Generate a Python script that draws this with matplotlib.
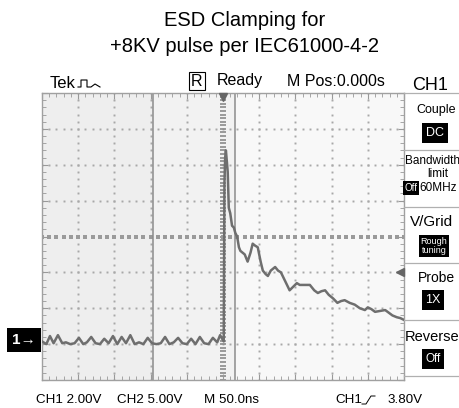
import numpy as np
import matplotlib
matplotlib.use('Agg')
import matplotlib.pyplot as plt

plt.rcParams['font.family'] = ['Liberation Sans', 'DejaVu Sans']

# CH1 trace, time in ns (0 = trigger), volts above CH1 ground
baseline_t = [-250, -244, -239, -234, -228, -222, -217, -211, -205, -199, -193,
              -188, -182, -176, -170, -164, -158, -152, -146, -140, -134, -128,
              -122, -116, -110, -104, -98, -92, -86, -80, -74, -68, -62, -56,
              -50, -44, -38, -32, -26, -20, -14, -8, -4, 1]
baseline_v = [0.15, 0.0, 0.45, 0.05, 0.5, 0.05, 0.1, 0.0, 0.05, 0.35, 0.0,
              0.1, 0.4, 0.05, 0.0, 0.3, 0.05, 0.45, 0.0, 0.4, 0.05, 0.5,
              0.0, 0.1, 0.0, 0.35, 0.05, 0.0, 0.05, 0.4, 0.0, 0.1, 0.35, 0.05,
              0.0, 0.3, 0.0, 0.4, 0.05, 0.0, 0.35, 0.1, 0.5, 0.15]
pulse_t = [2, 3, 4, 5.5, 6.5, 8, 10, 12.5, 15, 17, 19.5, 22, 24, 27, 30, 34, 38,
           41, 44, 48, 52, 55, 59, 62, 66, 72, 76, 80, 86, 92, 97, 102, 106, 112,
           120, 126, 131, 136, 141, 146, 152, 158, 163, 168, 175, 182, 189, 196,
           200, 205, 210, 217, 224, 229, 234, 240, 245, 250]
pulse_v = [9.0, 10.4, 10.8, 10.1, 9.6, 7.6, 7.3, 6.6, 6.5, 6.2, 6.0, 5.4, 5.2,
           5.1, 5.0, 4.6, 5.1, 5.6, 5.5, 5.4, 4.6, 4.1, 3.9, 3.8, 4.1, 4.3, 4.1,
           4.0, 3.5, 3.0, 3.2, 3.4, 3.3, 3.3, 3.3, 3.0, 2.85, 2.95, 3.0, 2.75,
           2.55, 2.3, 2.4, 2.45, 2.3, 2.2, 2.0, 1.9, 2.05, 1.95, 1.8, 1.85, 1.9,
           1.75, 1.6, 1.5, 1.45, 1.35]

ns_per_div = 50.0
volts_per_div = 2.0
ground_div = -3          # ground marker sits 3 div below the centre line
trigger_level = 3.80
cursor_t = [-97, 17]

panel_labels = ['Couple', 'Bandwidth', 'V/Grid', 'Probe', 'Reverse']
panel_values = ['DC', 'Off', 'Rough\ntuning', '1X', 'Off']

trace_t = np.array(baseline_t + pulse_t)
trace_v = np.array(baseline_v + pulse_v)

W, H = 459, 408
fig = plt.figure(figsize=(W / 100, H / 100), dpi=100, facecolor='white')

# scope screen, placed in pixels
x0, x1, y0, y1 = 42, 404, 93, 380
ax = fig.add_axes([x0 / W, 1 - y1 / H, (x1 - x0) / W, (y1 - y0) / H])
centre_v = -ground_div * volts_per_div
ax.set_xlim(-5 * ns_per_div, 5 * ns_per_div)
ax.set_ylim(centre_v - 4 * volts_per_div, centre_v + 4 * volts_per_div)
ax.set_facecolor('#f8f8f8')
ax.axvspan(-5 * ns_per_div, cursor_t[0], color='#eeeeee', lw=0, zorder=0)
ax.axvspan(cursor_t[0], cursor_t[1], color='#f2f2f2', lw=0, zorder=0)

xmaj = np.arange(-5, 6) * ns_per_div
ymaj = centre_v + np.arange(-4, 5) * volts_per_div
xmin = np.arange(-25, 26) * ns_per_div / 5
ymin = centre_v + np.arange(-20, 21) * volts_per_div / 5
ydense = centre_v + np.arange(-40, 41) * volts_per_div / 10

# dotted grid
for gx in xmaj[1:-1]:
    if gx == 0:
        continue
    ax.plot(np.full_like(ymin, gx), ymin, ls='none', marker='s', ms=1.4,
            color='#a8a8a8', mew=0, zorder=1)
for gy in ymaj[1:-1]:
    if gy == centre_v:
        continue
    ax.plot(xmin, np.full_like(xmin, gy), ls='none', marker='s', ms=1.4,
            color='#a8a8a8', mew=0, zorder=1)
# centre cross, drawn heavier
ax.plot(np.zeros_like(ydense), ydense, ls='none', marker='_', ms=4, mew=1.2,
        color='#8a8a8a', zorder=1)
ax.plot(xmin, np.full_like(xmin, centre_v), ls='none', marker='s', ms=2.2,
        mew=0, color='#9a9a9a', zorder=1)

for ct in cursor_t:
    ax.axvline(ct, color='#8c8c8c', lw=1.1, zorder=2)

ax.plot(trace_t, trace_v, color='#6e6e6e', lw=1.8, zorder=3,
        solid_joinstyle='round')

# trigger position and level markers
ax.plot([0], [ax.get_ylim()[1] - 0.25], marker='v', ms=6, color='#666666',
        clip_on=False, zorder=4)
ax.plot([ax.get_xlim()[1] - 5], [trigger_level + 0.2], marker='<', ms=6,
        color='#666666', clip_on=False, zorder=4)

ax.set_xticks(xmaj)
ax.set_yticks(ymaj)
ax.set_xticks(xmin, minor=True)
ax.set_yticks(ymin, minor=True)
ax.tick_params(which='both', direction='in', top=True, right=True,
               labelbottom=False, labelleft=False, color='#999999')
ax.tick_params(which='major', length=4)
ax.tick_params(which='minor', length=3)
for s in ax.spines.values():
    s.set_color('#a0a0a0')
    s.set_linewidth(1)

# overlay in pixel coordinates for the scope text
ov = fig.add_axes([0, 0, 1, 1])
ov.set_xlim(0, W)
ov.set_ylim(H, 0)
ov.axis('off')
ov.patch.set_alpha(0)

ov.text(245, 21, 'ESD Clamping for', ha='center', va='center', fontsize=14.5)
ov.text(245, 47, '+8KV pulse per IEC61000-4-2', ha='center', va='center',
        fontsize=14.5)

ov.text(50, 83, 'Tek', ha='left', va='center', fontsize=12)
ov.plot([78, 81, 81, 87, 87, 91, 95, 100], [87, 87, 80, 80, 87, 87, 84, 87],
        color='black', lw=0.8)
ov.text(197, 81, 'R', ha='center', va='center', fontsize=11.5,
        bbox=dict(boxstyle='square,pad=0.12', fc='white', ec='black', lw=0.8))
ov.text(217, 81, 'Ready', ha='left', va='center', fontsize=11.5)
ov.text(287, 81, 'M Pos:0.000s', ha='left', va='center', fontsize=11.5)
ov.text(412, 86, 'CH1', ha='left', va='center', fontsize=13)

# ground marker for channel 1
ov.text(24, 340, '1\u2192', ha='center', va='center', fontsize=11,
        fontweight='bold', color='white',
        bbox=dict(boxstyle='square,pad=0.35', fc='black', ec='none'))

# side menu
seps = [93, 150, 207, 263, 320, 376]
for sy in seps:
    ov.plot([404, W], [sy, sy], color='#b0b0b0', lw=0.9)
box = dict(boxstyle='square,pad=0.3', fc='black', ec='none')
ov.text(436, 110, panel_labels[0], ha='center', va='center', fontsize=9)
ov.text(435, 133, panel_values[0], ha='center', va='center', fontsize=9,
        color='white', bbox=box)
ov.text(405, 161, panel_labels[1], ha='left', va='center', fontsize=8.5)
ov.text(438, 174, 'limit', ha='center', va='center', fontsize=8.5)
ov.text(411, 188, panel_values[1], ha='center', va='center', fontsize=7,
        color='white', bbox=dict(boxstyle='square,pad=0.2', fc='black', ec='none'))
ov.text(419, 188, '60MHz', ha='left', va='center', fontsize=8.5)
ov.text(432, 222, panel_labels[2], ha='center', va='center', fontsize=11)
ov.text(434, 246, panel_values[2], ha='center', va='center', fontsize=6.5,
        color='white', linespacing=1.0,
        bbox=dict(boxstyle='square,pad=0.2', fc='black', ec='none'))
ov.text(436, 278, panel_labels[3], ha='center', va='center', fontsize=10)
ov.text(433, 300, panel_values[3], ha='center', va='center', fontsize=9,
        color='white', bbox=box)
ov.text(405, 337, panel_labels[4], ha='left', va='center', fontsize=10.5)
ov.text(433, 359, panel_values[4], ha='center', va='center', fontsize=8.5,
        color='white', bbox=box)

# status line
ov.text(36, 400, 'CH1 2.00V', ha='left', va='center', fontsize=9.6)
ov.text(117, 400, 'CH2 5.00V', ha='left', va='center', fontsize=9.6)
ov.text(204, 400, 'M 50.0ns', ha='left', va='center', fontsize=9.6)
ov.text(335, 400, 'CH1', ha='left', va='center', fontsize=9.6)
ov.plot([362, 366, 371, 375], [404, 404, 396, 396], color='black', lw=0.7)
ov.text(387, 400, '3.80V', ha='left', va='center', fontsize=9.6)

fig.savefig('out.png', dpi=100, facecolor='white')
